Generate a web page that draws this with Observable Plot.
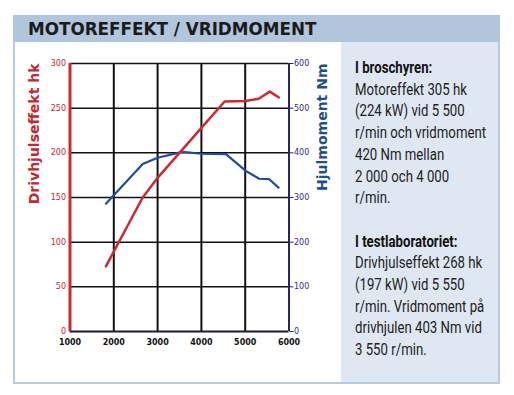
<!DOCTYPE html>
<html><head><meta charset="utf-8">
<script src="https://cdn.jsdelivr.net/npm/d3@7"></script>
<script src="https://cdn.jsdelivr.net/npm/@observablehq/plot@0.6"></script>
<style>
html,body{margin:0;padding:0;background:#fff;}
#wrap{position:relative;width:514px;height:395px;overflow:hidden;font-family:"DejaVu Sans",sans-serif;}
#frame{position:absolute;left:13px;top:15px;width:487px;height:369px;box-sizing:border-box;border:2px solid #b9cadd;}
#band{position:absolute;left:13px;top:15px;width:487px;height:27px;background:#b1c5dd;}
#title{position:absolute;left:28px;top:21px;font:bold 16.8px/17px "DejaVu Sans";color:#1b1b1b;white-space:nowrap;}
#panel{position:absolute;left:341px;top:42px;width:157px;height:340px;background:#dee7f2;}
#notes{position:absolute;left:355px;top:57px;font:16.5px/21.7px Roboto,sans-serif;color:#222;white-space:nowrap;transform:scaleX(0.8);transform-origin:0 0;}
#notes p{margin:0;}
#notes p + p{margin-top:21.7px;}
#notes b{font-weight:bold;color:#111;}
#chart{position:absolute;left:15px;top:42px;}
</style></head>
<body><div id="wrap">
<div id="frame"></div><div id="band"></div><div id="title"></div>
<div id="panel"></div><div id="notes"></div><div id="chart"></div>
</div>
<script>
const title = "MOTOREFFEKT / VRIDMOMENT";
const leftLabel = "Drivhjulseffekt hk";
const rightLabel = "Hjulmoment Nm";
const rpmPower = [1820, 2660, 3000, 4000, 4530, 5000, 5310, 5560, 5770];
const powerHk = [73, 150, 172, 228, 257.5, 258, 260.5, 268.5, 262];
const rpmTorque = [1820, 2660, 3000, 3570, 4000, 4560, 5020, 5320, 5550, 5760];
const torqueNm = [286, 375, 389, 402, 398, 397, 359, 342, 341, 322];
const rpmTicks = [1000, 2000, 3000, 4000, 5000, 6000];
const hkTicks = [0, 50, 100, 150, 200, 250, 300];
const nmTicks = [0, 100, 200, 300, 400, 500, 600];
const note1Head = "I broschyren:";
const note1Lines = ["Motoreffekt 305 hk", "(224 kW) vid 5 500", "r/min och vridmoment", "420 Nm mellan", "2 000 och 4 000", "r/min."];
const note2Head = "I testlaboratoriet:";
const note2Lines = ["Drivhjulseffekt 268 hk", "(197 kW) vid 5 550", "r/min. Vridmoment på", "drivhjulen 403 Nm vid", "3 550 r/min."];

const red = "#cc2a30", redText = "#c2282e", blue = "#1f4c9b", navy = "#25246c", navyText = "#2e2a80", blueTitle = "#1c4f8c";

document.getElementById("title").textContent = title;
const notes = document.getElementById("notes");
for (const [h, lines] of [[note1Head, note1Lines], [note2Head, note2Lines]]) {
  const p = document.createElement("p");
  const b = document.createElement("b"); b.textContent = h; p.appendChild(b);
  for (const l of lines) { p.appendChild(document.createElement("br")); p.appendChild(document.createTextNode(l)); }
  notes.appendChild(p);
}

const power = rpmPower.map((r, i) => ({rpm: r, v: powerHk[i]}));
const torque = rpmTorque.map((r, i) => ({rpm: r, v: torqueNm[i]}));
const k = hkTicks[hkTicks.length - 1] / nmTicks[nmTicks.length - 1];

const chart = Plot.plot({
  width: 326, height: 340,
  marginLeft: 54.5, marginRight: 52.5, marginTop: 21, marginBottom: 51,
  style: {background: "transparent", fontFamily: "DejaVu Sans", fontSize: "8px", overflow: "visible"},
  x: {domain: [rpmTicks[0], rpmTicks[rpmTicks.length - 1]]},
  y: {domain: [hkTicks[0], hkTicks[hkTicks.length - 1]]},
  marks: [
    Plot.gridX(rpmTicks.slice(1, -1), {stroke: "#111", strokeOpacity: 1, strokeWidth: 2}),
    Plot.gridY(hkTicks.slice(1), {stroke: "#111", strokeOpacity: 1, strokeWidth: 1.5}),
    Plot.ruleY([hkTicks[0]], {stroke: "#1a1a30", strokeWidth: 2}),
    Plot.ruleX([rpmTicks[rpmTicks.length - 1]], {stroke: navy, strokeWidth: 2}),
    Plot.ruleX([rpmTicks[0]], {stroke: red, strokeWidth: 3}),
    Plot.axisX(rpmTicks, {tickSize: 0, tickPadding: 8, fontWeight: "bold", fill: "#111", tickFormat: d => String(d), label: null}),
    Plot.axisY(hkTicks, {anchor: "left", tickSize: 0, tickPadding: 4, fill: redText, label: null}),
    Plot.axisY(nmTicks.map(d => d * k), {anchor: "right", tickSize: 4, tickPadding: 1, stroke: navy, fill: navyText, tickFormat: d => String(d / k), label: null}),
    Plot.line(torque, {x: "rpm", y: d => d.v * k, stroke: blue, strokeWidth: 2.2}),
    Plot.line(power, {x: "rpm", y: "v", stroke: red, strokeWidth: 2.5}),
    Plot.text([leftLabel], {frameAnchor: "top-left", text: d => d, rotate: -90, textAnchor: "end", lineAnchor: "bottom", dx: -31.5, fill: redText, fontWeight: "bold", fontSize: 14}),
    Plot.text([rightLabel], {frameAnchor: "top-right", text: d => d, rotate: -90, textAnchor: "end", lineAnchor: "bottom", dx: 38, fill: blueTitle, fontWeight: "bold", fontSize: 14})
  ]
});
document.getElementById("chart").appendChild(chart);
</script>
</body></html>
